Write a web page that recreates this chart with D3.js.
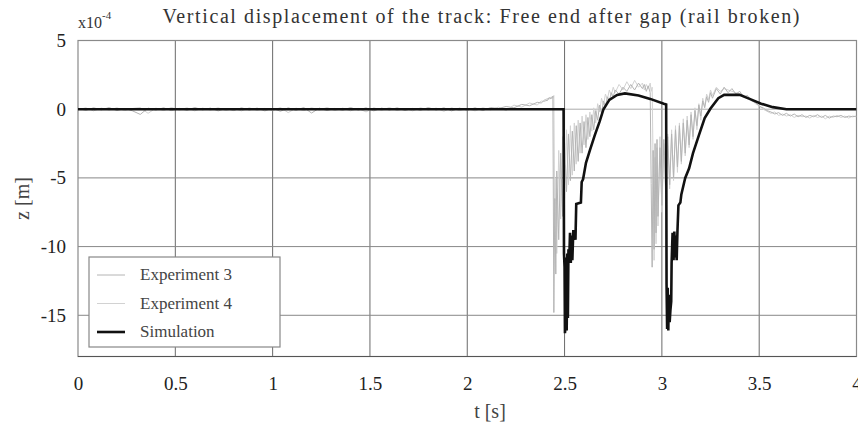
<!DOCTYPE html>
<html>
<head>
<meta charset="utf-8">
<script src="https://cdn.jsdelivr.net/npm/d3@7"></script>
<style>
  body { margin: 0; background: #fff; }
  svg, svg text { font-family: "Liberation Serif", "Times New Roman", serif; }
</style>
</head>
<body>
<script>
// sample times of the two measured runs
var tExp = [
  0,0.04,0.08,0.12,0.16,0.2,0.24,0.28,0.32,0.36,
  0.4,0.44,0.48,0.52,0.56,0.6,0.64,0.68,0.72,0.76,
  0.8,0.84,0.88,0.92,0.96,1,1.04,1.08,1.12,1.16,
  1.2,1.24,1.28,1.32,1.36,1.4,1.44,1.48,1.52,1.56,
  1.6,1.64,1.68,1.72,1.76,1.8,1.84,1.88,1.92,1.96,
  2,2.04,2.08,2.12,2.16,2.2,2.24,2.28,2.32,2.36,
  2.38,2.4,2.41,2.42,2.43,2.44,2.445,2.45,2.455,2.46,
  2.47,2.48,2.49,2.5,2.51,2.52,2.53,2.54,2.55,2.56,
  2.57,2.58,2.59,2.6,2.61,2.62,2.63,2.64,2.65,2.66,
  2.67,2.68,2.69,2.7,2.71,2.72,2.73,2.74,2.75,2.76,
  2.78,2.8,2.82,2.84,2.86,2.88,2.9,2.91,2.92,2.93,
  2.94,2.945,2.95,2.955,2.96,2.965,2.97,2.975,2.98,2.99,
  3,3.01,3.02,3.03,3.04,3.05,3.06,3.07,3.08,3.09,
  3.1,3.11,3.12,3.13,3.14,3.15,3.16,3.17,3.18,3.19,
  3.2,3.21,3.22,3.23,3.24,3.25,3.26,3.28,3.3,3.32,
  3.34,3.36,3.38,3.4,3.42,3.44,3.46,3.48,3.5,3.52,
  3.54,3.56,3.58,3.6,3.62,3.64,3.66,3.68,3.7,3.72,
  3.74,3.76,3.78,3.8,3.82,3.84,3.86,3.88,3.9,3.92,
  3.94,3.96,3.98,4
];

// z in units of 1e-4 m
var exp3 = [
  0.06,-0.08,0.1,-0.05,0.12,-0.1,0.05,-0.12,-0.38,0.08,
  -0.06,0.1,-0.1,0.06,-0.08,0.12,-0.05,0.08,-0.12,0.05,
  -0.1,0.1,-0.06,0.08,-0.12,0.06,-0.15,0.1,-0.08,0.12,
  -0.28,0.08,-0.1,0.06,-0.08,0.12,-0.06,0.1,-0.12,0.08,
  -0.06,0.1,-0.1,0.06,-0.08,0.12,-0.06,0.1,-0.12,0.08,
  -0.08,0.1,-0.1,0.12,0.05,0.2,0.1,0.35,0.25,0.5,
  0.45,0.7,0.6,0.85,0.75,0.95,-14.8,-6.5,-12.0,-4.5,
  -9.5,-3.2,-7.8,-2.5,-6.0,-1.8,-5.2,-1.6,-4.5,-1.2,
  -3.8,-1.0,-3.2,-0.9,-2.8,-0.6,-2.0,-0.4,-1.5,-0.1,
  -0.8,0.3,-0.3,0.6,0.2,0.9,0.6,1.2,0.9,1.4,
  1.1,1.6,1.3,1.8,1.4,1.9,1.5,1.8,1.3,1.7,
  1.2,-5.4,-11.5,-3.0,-10.2,-2.5,-9.0,-2.2,-7.8,-2.8,
  -7.0,-2.2,-6.0,-2.0,-5.5,-1.8,-5.0,-1.5,-4.2,-1.2,
  -3.8,-1.0,-3.2,-0.8,-2.6,-0.4,-2.0,-0.1,-1.2,0.3,
  -0.5,0.6,0.1,0.9,0.5,1.2,0.8,1.5,1.1,1.6,
  1.2,1.5,1.1,1.3,0.9,1.0,0.6,0.5,0.2,0.1,
  -0.1,-0.2,-0.35,-0.25,-0.45,-0.3,-0.5,-0.35,-0.55,-0.4,
  -0.6,-0.45,-0.55,-0.4,-0.6,-0.45,-0.65,-0.5,-0.55,-0.45,
  -0.6,-0.5,-0.55,-0.5
];

var exp4 = [
  -0.05,0.1,-0.12,0.08,-0.06,0.1,-0.1,0.05,0.12,-0.3,
  0.08,-0.1,0.12,-0.06,0.1,-0.12,0.08,-0.06,0.1,-0.1,
  0.05,-0.12,0.1,-0.08,0.06,-0.1,0.12,-0.25,0.08,-0.1,
  0.1,-0.06,0.12,-0.1,0.08,-0.12,0.06,-0.2,0.1,-0.08,
  0.12,-0.1,0.06,-0.12,0.1,-0.06,0.08,-0.15,0.1,-0.1,
  0.06,-0.12,0.1,-0.05,0.15,-0.1,0.3,0.15,0.45,0.3,
  0.6,0.55,0.8,0.7,0.9,0.8,1.0,-9.5,-5.0,-10.5,
  -3.0,-8.0,-2.0,-6.5,-1.5,-5.5,-1.2,-4.8,-1.0,-4.0,
  -0.8,-3.2,-0.5,-2.6,-0.4,-2.2,-0.2,-1.6,0.1,-1.0,
  0.4,-0.2,0.8,0.3,1.1,0.7,1.4,1.0,1.6,1.2,
  1.8,1.4,2.0,1.5,2.1,1.6,1.9,1.4,1.8,1.5,
  1.9,1.3,1.6,-4.0,-11.0,-3.5,-9.8,-2.8,-8.5,-2.0,
  -7.5,-2.5,-6.5,-1.8,-5.8,-1.5,-5.2,-1.2,-4.6,-1.0,
  -4.0,-0.7,-3.4,-0.5,-2.8,-0.2,-2.2,0.1,-1.5,0.4,
  -0.8,0.8,0.2,1.1,0.7,1.4,1.0,1.6,1.3,1.5,
  1.4,1.3,1.2,1.1,1.0,0.8,0.7,0.4,0.3,0.0,
  -0.15,-0.3,-0.2,-0.45,-0.35,-0.5,-0.4,-0.6,-0.45,-0.55,
  -0.5,-0.65,-0.45,-0.6,-0.5,-0.7,-0.5,-0.6,-0.45,-0.6,
  -0.5,-0.65,-0.5,-0.55
];

var tSim = [
  0,2.495,2.497,2.5,2.502,2.505,2.508,2.511,2.514,2.517,
  2.52,2.524,2.528,2.532,2.536,2.54,2.545,2.556,2.56,2.584,
  2.588,2.595,2.61,2.63,2.655,2.68,2.7,2.73,2.77,2.81,
  2.88,2.94,3.01,3.022,3.024,3.027,3.03,3.033,3.036,3.04,
  3.044,3.048,3.05,3.055,3.06,3.064,3.068,3.072,3.076,3.08,
  3.085,3.095,3.1,3.115,3.12,3.14,3.16,3.19,3.22,3.25,
  3.29,3.32,3.4,3.46,3.51,3.57,3.64,4
];
var zSim = [
  0,0,-10.5,-11.5,-16.3,-15.8,-10.8,-16.1,-10.5,-15.2,
  -10.2,-11.0,-9.0,-11.2,-9.2,-11.0,-8.8,-9.5,-6.9,-6.8,
  -5.3,-5.1,-3.9,-3.0,-1.9,-0.9,0,0.68,1.04,1.15,
  1.0,0.75,0.4,0.35,-12.7,-16.0,-13.0,-16.1,-13.5,-15.5,
  -14.6,-14.0,-11.2,-9.0,-11.0,-8.9,-10.8,-9.2,-11.0,-8.9,
  -7.0,-6.8,-6.2,-5.3,-5.0,-4.3,-3.2,-1.9,-0.65,0.05,
  0.8,1.04,1.05,0.7,0.4,0.15,0,0
];

var xTicks = [0, 0.5, 1, 1.5, 2, 2.5, 3, 3.5, 4];
var xTickLabels = ["0", "0.5", "1", "1.5", "2", "2.5", "3", "3.5", "4"];
var yTicks = [-15, -10, -5, 0, 5];
var yTickLabels = ["-15", "-10", "-5", "0", "5"];
var seriesNames = ["Experiment 3", "Experiment 4", "Simulation"];
var seriesColors = ["#b4b4b4", "#d2d2d2", "#111"];

var width = 858, height = 430;
var serif = '"Liberation Serif", "Times New Roman", serif';
var x = d3.scaleLinear().domain([0, 4]).range([78, 856.5]);
var y = d3.scaleLinear().domain([-18, 5]).range([356.5, 40.5]);

var svg = d3.select("body").append("svg")
    .attr("width", width)
    .attr("height", height);

svg.append("defs").append("clipPath").attr("id", "plot")
  .append("rect")
    .attr("x", x(0)).attr("y", y(5))
    .attr("width", x(4) - x(0)).attr("height", y(-18) - y(5));

// grid
svg.append("g").selectAll("line")
    .data(xTicks.slice(1, -1)).enter().append("line")
    .attr("x1", function (d) { return x(d); })
    .attr("x2", function (d) { return x(d); })
    .attr("y1", y(5)).attr("y2", y(-18))
    .style("stroke", "#6a6a6a").style("stroke-width", 1);

svg.append("g").selectAll("line")
    .data(yTicks.slice(0, -1)).enter().append("line")
    .attr("x1", x(0)).attr("x2", x(4))
    .attr("y1", function (d) { return y(d); })
    .attr("y2", function (d) { return y(d); })
    .style("stroke", function (d) { return d === 0 ? "#aaa" : "#888"; })
    .style("stroke-width", 1);

// frame
svg.append("rect")
    .attr("x", x(0)).attr("y", y(5))
    .attr("width", x(4) - x(0)).attr("height", y(-18) - y(5))
    .style("fill", "none").style("stroke", "#8a8a8a").style("stroke-width", 1.2);
svg.append("line")
    .attr("x1", x(0)).attr("x2", x(4)).attr("y1", y(-18)).attr("y2", y(-18))
    .style("stroke", "#555").style("stroke-width", 1.2);

// data
var lineExp = function (vals) {
    return d3.line()
        .x(function (d, i) { return x(tExp[i]); })
        .y(function (d) { return y(d); })(vals);
};
var lineSim = d3.line()
    .x(function (d, i) { return x(tSim[i]); })
    .y(function (d) { return y(d); });

var plot = svg.append("g").attr("clip-path", "url(#plot)");
plot.append("path").attr("d", lineExp(exp4))
    .style("fill", "none").style("stroke", seriesColors[1]).style("stroke-width", 1);
plot.append("path").attr("d", lineExp(exp3))
    .style("fill", "none").style("stroke", seriesColors[0]).style("stroke-width", 1);
plot.append("path").attr("d", lineSim(zSim))
    .style("fill", "none").style("stroke", seriesColors[2]).style("stroke-width", 2.6)
    .style("stroke-linejoin", "miter");

// axes labels
var xAxis = svg.append("g")
    .attr("transform", "translate(0," + y(-18) + ")")
    .call(d3.axisBottom(x).tickValues(xTicks)
        .tickFormat(function (d, i) { return xTickLabels[i]; })
        .tickSize(0).tickPadding(20));
var yAxis = svg.append("g")
    .attr("transform", "translate(" + x(0) + ",0)")
    .call(d3.axisLeft(y).tickValues(yTicks)
        .tickFormat(function (d, i) { return yTickLabels[i]; })
        .tickSize(0).tickPadding(12));
[xAxis, yAxis].forEach(function (a) {
    a.attr("font-family", null);
    a.select(".domain").remove();
    a.selectAll("text")
        .style("font-family", serif)
        .style("font-size", "19px")
        .style("fill", "#222");
});

svg.append("text")
    .attr("x", 481).attr("y", 23)
    .attr("text-anchor", "middle")
    .attr("textLength", 637)
    .style("font-family", serif)
    .style("font-size", "20px").style("fill", "#333")
    .text("Vertical displacement of the track: Free end after gap (rail broken)");

var expo = svg.append("text").attr("x", 78).attr("y", 28)
    .style("font-family", serif)
    .style("font-size", "16px").style("fill", "#333");
expo.append("tspan").text("x10");
expo.append("tspan").attr("dy", -9).style("font-size", "11px").text("-4");

svg.append("text")
    .attr("x", 490).attr("y", 418)
    .attr("text-anchor", "middle")
    .style("font-family", serif)
    .style("font-size", "20px").style("fill", "#444")
    .text("t [s]");

svg.append("text")
    .attr("transform", "translate(29," + ((y(5) + y(-18)) / 2) + ") rotate(-90)")
    .attr("text-anchor", "middle")
    .style("font-family", serif)
    .style("font-size", "20px").style("fill", "#444")
    .text("z [m]");

// legend
var legend = svg.append("g").attr("transform", "translate(89,257)");
legend.append("rect")
    .attr("width", 191).attr("height", 90)
    .style("fill", "#fff").style("stroke", "#888").style("stroke-width", 1.2);
var items = legend.selectAll("g.item")
    .data(seriesNames).enter().append("g")
    .attr("transform", function (d, i) { return "translate(0," + (18 + i * 28.5) + ")"; });
items.append("line")
    .attr("x1", 8).attr("x2", 36)
    .style("stroke", function (d, i) { return seriesColors[i]; })
    .style("stroke-width", function (d, i) { return i === 2 ? 2.6 : 1; });
items.append("text")
    .attr("x", 51).attr("y", 5)
    .style("font-family", serif)
    .style("font-size", "17px").style("fill", "#444")
    .text(function (d) { return d; });
</script>
</body>
</html>
